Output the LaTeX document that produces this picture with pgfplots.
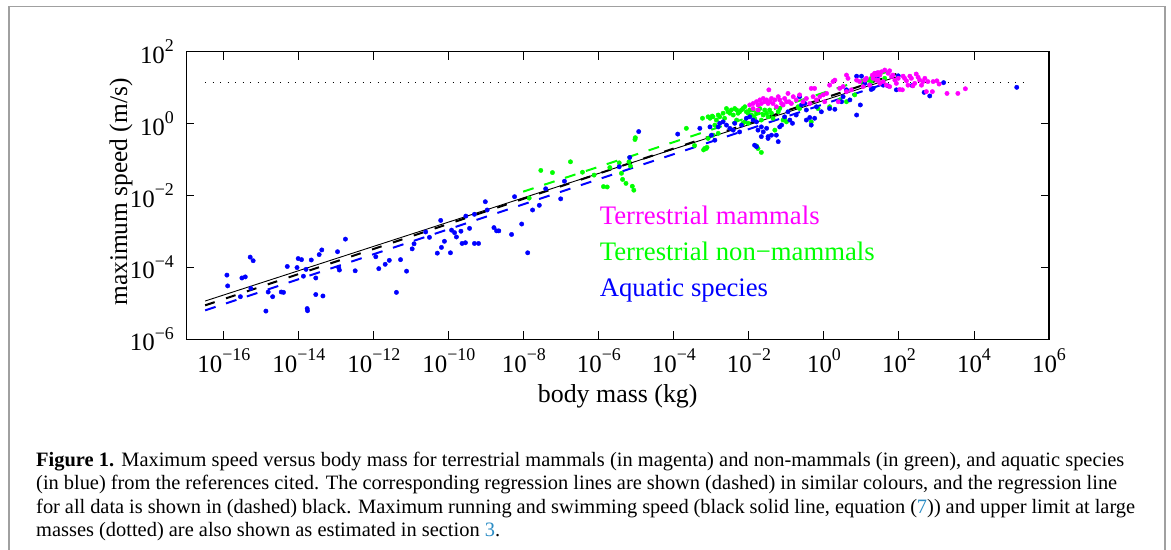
\documentclass[border=0pt]{standalone}
\usepackage{fontspec}
\setmainfont{Liberation Serif}
\usepackage{pgfplots}
\pgfplotsset{compat=1.18}
\definecolor{capblue}{HTML}{2B8CC4}
\definecolor{framegray}{HTML}{A0A0A0}
\definecolor{mmag}{RGB}{255,0,255}
\definecolor{mgreen}{RGB}{0,255,0}
\definecolor{mblue}{RGB}{0,0,255}
% tick label 10^n set in the text font
\newcommand\expo[1]{\pgfmathtruncatemacro\ex{#1}10\raisebox{0.45em}{\fontsize{18}{20}\selectfont\ifnum\ex<0 −\number\numexpr-\ex\relax\else\ex\fi}}
\tikzset{dots/.style={only marks, mark=*, mark size=2.2bp, mark options={draw=none}}}
% all values are log10 of mass (kg) and log10 of speed (m/s)
\pgfplotstableread{
lx ly
-15.92 -4.21
-15.90 -4.51
-15.56 -4.81
-15.52 -4.29
-15.43 -4.26
-15.30 -3.71
-15.22 -3.81
-15.28 -4.58
-14.88 -5.21
-14.82 -4.68
-14.70 -4.81
-14.47 -4.68
-14.41 -4.69
-14.31 -3.97
-14.05 -4.00
-14.02 -3.75
-13.93 -3.78
-13.81 -4.05
-13.88 -4.24
-13.78 -5.14
-13.77 -5.20
-13.67 -3.79
-13.55 -4.29
-13.55 -4.75
-13.46 -3.64
-13.39 -3.51
-13.36 -4.79
-12.97 -3.56
-12.92 -4.07
-12.94 -4.00
-12.76 -3.21
-12.50 -4.09
-11.95 -3.70
-11.87 -4.03
-11.70 -3.91
-11.59 -3.80
-11.40 -4.69
-11.29 -3.78
-11.13 -4.10
-10.98 -3.48
-10.93 -3.34
-10.62 -3.01
-10.52 -3.16
-10.31 -3.60
-10.22 -2.69
-10.20 -3.44
-10.12 -3.27
-9.96 -3.59
-9.93 -2.96
-9.85 -3.03
-9.80 -3.15
-9.68 -2.99
-9.65 -3.33
-9.56 -3.31
-9.55 -2.57
-9.45 -2.91
-9.32 -2.52
-9.32 -3.33
-9.21 -3.33
-9.03 -2.17
-8.98 -2.40
-8.80 -2.89
-8.73 -2.98
-8.67 -2.98
-8.33 -3.08
-8.25 -2.03
-8.06 -2.79
-7.90 -3.59
-7.77 -2.40
-7.59 -2.27
-7.42 -1.81
-7.02 -2.09
-6.92 -1.60
-5.46 -1.20
-5.18 -0.94
-4.94 -0.22
-3.90 -0.29
-3.31 -0.13
-3.04 -0.09
-3.00 -0.32
-2.91 -0.46
-2.82 -0.09
-2.78 0.01
-2.69 0.05
-2.60 -0.04
-2.51 -0.13
-2.42 -0.18
-2.38 0.01
-2.25 -0.23
-2.20 -0.04
-2.07 0.15
-1.98 0.19
-1.89 0.10
-1.80 0.05
-1.76 -0.18
-1.67 -0.09
-1.62 -0.23
-1.53 -0.13
-1.49 -0.36
-1.40 -0.32
-1.27 -0.32
-1.22 -0.50
-1.18 -0.09
-1.13 -0.04
-1.05 0.19
-0.96 0.33
-0.91 0.10
-0.84 0.01
-0.74 0.24
-0.65 0.75
-0.60 0.52
-0.51 0.56
-0.47 0.38
-0.47 0.10
-0.38 0.17
-0.34 -0.04
-0.25 0.15
-0.20 0.47
-0.07 0.33
0.15 0.42
0.29 0.40
0.47 0.61
0.51 0.75
0.60 0.94
0.69 0.66
0.87 1.32
0.97 0.52
0.87 0.24
1.00 1.32
1.09 1.12
1.22 1.07
1.31 0.98
1.40 1.40
-1.85 -0.60
-1.80 -0.64
-1.67 -0.36
-1.49 -0.41
1.42 1.29
1.58 1.07
1.71 1.05
1.93 0.94
1.98 1.33
2.35 1.06
2.67 0.87
2.82 0.77
3.19 1.14
5.14 1.01
1.26 0.95
}\aquatic
\pgfplotstableread{
lx ly
-7.86 -2.07
-7.55 -1.30
-7.24 -1.36
-6.76 -1.06
-6.44 -1.35
-6.13 -1.43
-5.88 -1.75
-5.78 -1.76
-5.71 -1.22
-5.46 -1.09
-5.40 -1.38
-5.37 -1.55
-5.28 -1.66
-5.20 -1.06
-5.16 -1.18
-5.11 -1.74
-5.07 -1.85
-5.04 -0.44
-5.03 -0.39
-3.67 -0.13
-3.45 -0.61
-3.21 -0.73
-3.14 -0.69
-3.09 0.19
-2.98 0.21
-3.24 0.15
-3.18 -0.69
-3.12 -0.66
-3.09 -0.41
-3.04 0.15
-2.96 0.19
-2.91 -0.04
-2.87 0.10
-2.82 0.24
-2.78 0.19
-2.69 0.29
-2.65 0.15
-2.60 0.42
-2.56 0.33
-2.51 0.29
-2.47 0.38
-2.42 0.24
-2.38 0.42
-2.33 0.38
-2.29 0.29
-2.25 0.33
-2.20 0.38
-2.16 0.42
-2.11 0.47
-2.07 0.33
-2.02 0.29
-1.98 0.38
-1.93 0.24
-1.89 0.38
-1.85 0.15
-1.80 0.29
-1.76 0.33
-1.71 0.42
-1.67 0.10
-1.62 0.24
-1.58 0.38
-1.53 0.29
-1.49 0.19
-1.45 0.38
-1.40 0.29
-1.36 0.15
-1.31 -0.18
-1.22 0.33
-1.18 0.42
-1.09 0.10
-1.05 0.15
-1.00 0.05
-1.76 -0.69
-1.67 -0.80
-1.80 -0.62
-2.96 -0.32
-2.82 -0.27
-2.11 0.05
-2.02 0.01
-2.33 0.10
-2.16 0.01
-0.69 0.47
-0.65 0.42
-0.34 0.05
-0.16 0.42
0.15 0.47
0.42 0.66
0.60 0.61
0.82 0.80
1.04 1.12
1.18 1.21
1.26 1.26
1.26 1.17
1.58 1.12
1.62 1.26
}\nonmammals
\pgfplotstableread{
lx ly
-1.98 0.52
-1.89 0.56
-1.80 0.61
-1.76 0.52
-1.71 0.66
-1.67 0.56
-1.62 0.70
-1.58 0.61
-1.53 0.66
-1.49 0.56
-1.47 0.94
-1.45 0.61
-1.40 0.70
-1.36 0.56
-1.31 0.66
-1.27 0.47
-1.22 0.75
-1.18 0.66
-1.13 0.56
-1.09 0.52
-1.05 0.70
-1.00 0.61
-0.96 0.84
-0.93 0.61
-0.87 0.56
-0.82 0.75
-0.74 0.66
-0.65 0.80
-0.56 0.61
-0.47 0.70
-0.38 0.56
-0.34 0.98
-0.25 0.98
-0.29 0.75
-0.20 0.66
-0.11 0.75
-0.02 0.80
0.02 0.61
0.07 0.84
0.15 1.07
0.24 1.17
0.29 1.21
0.38 0.61
0.42 0.98
0.51 1.03
0.60 0.89
0.64 1.26
0.73 0.94
0.87 1.21
0.95 1.17
1.04 1.03
1.09 1.21
1.13 1.26
1.22 1.07
1.31 1.31
1.40 1.35
1.44 1.21
0.60 1.35
-1.89 0.42
-1.76 0.38
1.29 1.35
1.35 1.40
1.44 1.42
1.49 1.35
1.53 1.44
1.62 1.49
1.71 1.40
1.75 1.47
1.80 1.31
1.84 1.35
1.89 1.21
1.93 1.12
1.98 1.26
2.02 0.95
2.09 0.94
2.11 1.32
2.15 1.26
2.20 1.19
2.24 1.07
2.29 1.32
2.33 1.26
2.37 1.05
2.42 1.12
2.46 1.38
2.51 1.29
2.55 1.21
2.60 1.07
2.64 1.17
2.69 1.26
2.73 0.89
2.77 1.17
2.89 0.89
2.91 1.17
3.01 1.19
3.07 1.10
3.28 0.84
3.57 0.84
3.77 0.97
1.49 1.12
1.66 1.07
1.75 1.03
1.58 1.17
1.40 1.21
1.31 1.26
}\mammals

\begin{document}
\begin{tikzpicture}
\path[use as bounding box] (0bp,0bp) rectangle (1171bp,550bp);
\draw[framegray, line width=1.3bp] (9bp,-5bp) -- (9bp,543.3bp) -- (1165bp,543.3bp) -- (1165bp,-5bp);
\begin{axis}[
  at={(186.4bp,210.5bp)}, anchor=south west,
  scale only axis, width=862.6bp, height=287.8bp,
  xmin=-17, xmax=6, ymin=-6, ymax=2,
  xtick={-16,-14,...,6}, ytick={-6,-4,...,2},
  tick align=inside, major tick length=8bp,
  axis line style={line width=1.2bp},
  tick style={line width=1bp, black},
  xticklabel={\expo{\tick}}, yticklabel={\expo{\tick}},
  xticklabel style={font=\fontsize{25}{30}\selectfont, yshift=-6bp},
  yticklabel style={font=\fontsize{25}{30}\selectfont, xshift=-9bp},
  clip=false,
]
\addplot[dots, mgreen] table[x=lx, y=ly] {\nonmammals};
\addplot[dots, mblue] table[x=lx, y=ly] {\aquatic};
\addplot[dots, mmag] table[x=lx, y=ly] {\mammals};
% maximum speed, equation (7)
\addplot[black, line width=0.9bp] coordinates {(-16.5,-4.93) (1.93,1.30)};
% regression lines
\addplot[black, line width=2bp, dash pattern=on 10bp off 12bp] coordinates {(-16.5,-5.05) (1.93,1.38)};
\addplot[mblue, line width=2bp, dash pattern=on 11bp off 11bp] coordinates {(-16.5,-5.19) (1.6,1.10)};
\addplot[mgreen, line width=2bp, dash pattern=on 11bp off 11bp] coordinates {(-8.02,-1.89) (2.0,1.55)};
% upper limit at large masses
\addplot[black, line width=1.3bp, dash pattern=on 1.3bp off 6.2bp] coordinates {(-16.5,1.149) (5.3,1.149)};
\end{axis}
\node[anchor=base, font=\fontsize{26}{30}\selectfont] at (617.7bp,147.5bp) {body mass (kg)};
\node[anchor=base, rotate=90, font=\fontsize{25.5}{30}\selectfont] at (127bp,358bp) {maximum speed (m/s)};
\begin{scope}[font=\fontsize{26.8}{30}\selectfont]
\node[anchor=base west, inner sep=0, mmag] at (599.6bp,325bp) {Terrestrial mammals};
\node[anchor=base west, inner sep=0, mgreen] at (599.6bp,289.3bp) {Terrestrial non−mammals};
\node[anchor=base west, inner sep=0, mblue] at (599.6bp,253.3bp) {Aquatic species};
\end{scope}
\begin{scope}[font=\fontsize{20.5}{23}\selectfont]
\node[anchor=base west, inner sep=0] at (36bp,83.3bp) {\makebox[1088bp][s]{\textbf{Figure 1.} Maximum speed versus body mass for terrestrial mammals (in magenta) and non-mammals (in green), and aquatic species}};
\node[anchor=base west, inner sep=0] at (36bp,60bp) {\makebox[1081bp][s]{(in blue) from the references cited. The corresponding regression lines are shown (dashed) in similar colours, and the regression line}};
\node[anchor=base west, inner sep=0] at (36bp,36.7bp) {\makebox[1099bp][s]{for all data is shown in (dashed) black. Maximum running and swimming speed (black solid line, equation (\textcolor{capblue}{7})) and upper limit at large}};
\node[anchor=base west, inner sep=0] at (36bp,13.3bp) {masses (dotted) are also shown as estimated in section \textcolor{capblue}{3}.};
\end{scope}
\end{tikzpicture}
\end{document}
